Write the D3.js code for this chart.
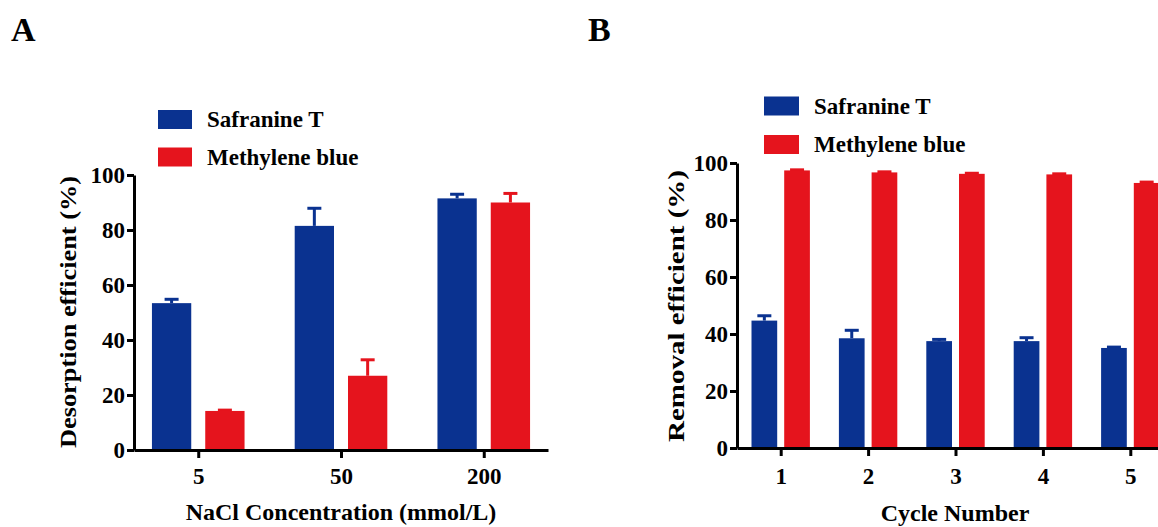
<!DOCTYPE html>
<html>
<head>
<meta charset="utf-8">
<script src="https://cdn.jsdelivr.net/npm/d3@7"></script>
<style>
  body { margin: 0; background: white; }
  text { font-family: "Liberation Serif", "Times New Roman", serif; font-weight: bold; }
</style>
</head>
<body>
<svg id="graph"></svg>
<script>
const width = 1158;
const height = 527;

// data
const seriesNames = ["Safranine T", "Methylene blue"];
const seriesColors = ["#0a3290", "#e5141d"];

const concLabels = ["5", "50", "200"];
const safranineA = [53.4, 81.5, 91.5];
const safranineAErr = [1.4, 6.4, 1.5];
const methyleneA = [14.2, 27.0, 90.0];
const methyleneAErr = [0.3, 5.8, 3.3];

const cycleLabels = ["1", "2", "3", "4", "5"];
const safranineB = [44.7, 38.5, 37.5, 37.5, 35.1];
const safranineBErr = [1.7, 2.8, 0.6, 1.2, 0.3];
const methyleneB = [97.4, 96.7, 96.2, 96.0, 93.0];
const methyleneBErr = [0.2, 0.2, 0.2, 0.2, 0.3];

const yTicks = [0, 20, 40, 60, 80, 100];

let svg = d3.select('#graph')
        .attr('width', width)
        .attr('height', height)
        .style('background-color', 'white');


function drawPanel(p) {
        let g = svg.append("g");

        let x = d3.scalePoint().domain(p.cats).range(p.xRange).padding(p.xPad);
        let y = d3.scaleLinear().domain([0, 100]).range(p.yRange);
        // position of each series inside a group
        let sub = d3.scaleBand().domain([0, 1])
                .range([-(p.barW + p.gap / 2), p.barW + p.gap / 2])
                .paddingInner(p.gap / (p.barW + p.gap));

        let rows = [];
        p.cats.forEach((c, i) => {
                rows.push({cat: c, s: 0, v: p.vals[0][i], e: p.errs[0][i]});
                rows.push({cat: c, s: 1, v: p.vals[1][i], e: p.errs[1][i]});
        });

        // error bars (upper half only)
        let capW = 14;
        rows.forEach(d => {
                let cx = x(d.cat) + sub(d.s) + sub.bandwidth() / 2;
                g.append("line")
                        .attr("x1", cx).attr("x2", cx)
                        .attr("y1", y(d.v)).attr("y2", y(d.v + d.e))
                        .style("stroke", seriesColors[d.s]).style("stroke-width", 3);
                g.append("line")
                        .attr("x1", cx - capW / 2).attr("x2", cx + capW / 2)
                        .attr("y1", y(d.v + d.e)).attr("y2", y(d.v + d.e))
                        .style("stroke", seriesColors[d.s]).style("stroke-width", 3);
        });

        g.selectAll(".bar").data(rows).enter().append("rect")
                .attr("x", d => x(d.cat) + sub(d.s))
                .attr("y", d => y(d.v))
                .attr("width", sub.bandwidth())
                .attr("height", d => y(0) - y(d.v))
                .style("fill", d => seriesColors[d.s]);

        ////axes
        let yAxis = d3.axisLeft(y).tickValues(yTicks).tickSize(7).tickSizeOuter(0).tickPadding(2);
        let xAxis = d3.axisBottom(x).tickSize(8).tickSizeOuter(0).tickPadding(p.xTickPad);

        let ya = g.append("g").attr("transform", "translate(" + p.xRange[0] + ",0)").call(yAxis);
        let xa = g.append("g").attr("transform", "translate(0," + p.yRange[0] + ")").call(xAxis);
        [ya, xa].forEach(a => {
                a.select(".domain").style("stroke", "black").style("stroke-width", 3);
                a.selectAll(".tick line").style("stroke", "black").style("stroke-width", 3);
                a.selectAll(".tick text")
                        .style("font-size", "23px")
                        .style("font-family", "Liberation Serif")
                        .style("font-weight", "bold")
                        .style("fill", "black");
        });

        // axis titles
        g.append("text")
                .attr("transform", "translate(" + p.yLabelX + "," + p.yLabelY + ") rotate(-90)")
                .attr("text-anchor", "middle")
                .attr("textLength", p.yLabelLen)
                .attr("lengthAdjust", "spacingAndGlyphs")
                .style("font-size", "23px")
                .text(p.yLabel);
        g.append("text")
                .attr("x", p.xLabelX).attr("y", p.xLabelY)
                .attr("text-anchor", "middle")
                .style("font-size", "24px")
                .text(p.xLabel);

        // panel letter
        g.append("text")
                .attr("x", p.letterX).attr("y", 41)
                .style("font-size", "34px")
                .text(p.letter);

        ////legend
        seriesNames.forEach((n, i) => {
                g.append("rect")
                        .attr("x", p.legX).attr("y", p.legY[i])
                        .attr("width", p.legW).attr("height", 19)
                        .style("fill", seriesColors[i]);
                g.append("text")
                        .attr("x", p.legX + p.legW + 15).attr("y", p.legY[i] + 17)
                        .style("font-size", "23px")
                        .text(n);
        });
}

drawPanel({
        cats: concLabels, vals: [safranineA, methyleneA], errs: [safranineAErr, methyleneAErr],
        xRange: [134, 548], xPad: 0.45, yRange: [450, 175],
        barW: 39.3, gap: 14, xTickPad: 10,
        yLabel: "Desorption efficient (%)", yLabelX: 76, yLabelY: 312, yLabelLen: 272,
        xLabel: "NaCl Concentration (mmol/L)", xLabelX: 341, xLabelY: 520,
        letter: "A", letterX: 11,
        legX: 158, legW: 34, legY: [110, 147.5]
});

drawPanel({
        cats: cycleLabels, vals: [safranineB, methyleneB], errs: [safranineBErr, methyleneBErr],
        xRange: [737, 1174], xPad: 0.5, yRange: [448, 163],
        barW: 25.7, gap: 7, xTickPad: 12,
        yLabel: "Removal efficient (%)", yLabelX: 684, yLabelY: 306, yLabelLen: 272,
        xLabel: "Cycle Number", xLabelX: 955, xLabelY: 521,
        letter: "B", letterX: 588,
        legX: 764, legW: 35, legY: [96.5, 135]
});
</script>
</body>
</html>
